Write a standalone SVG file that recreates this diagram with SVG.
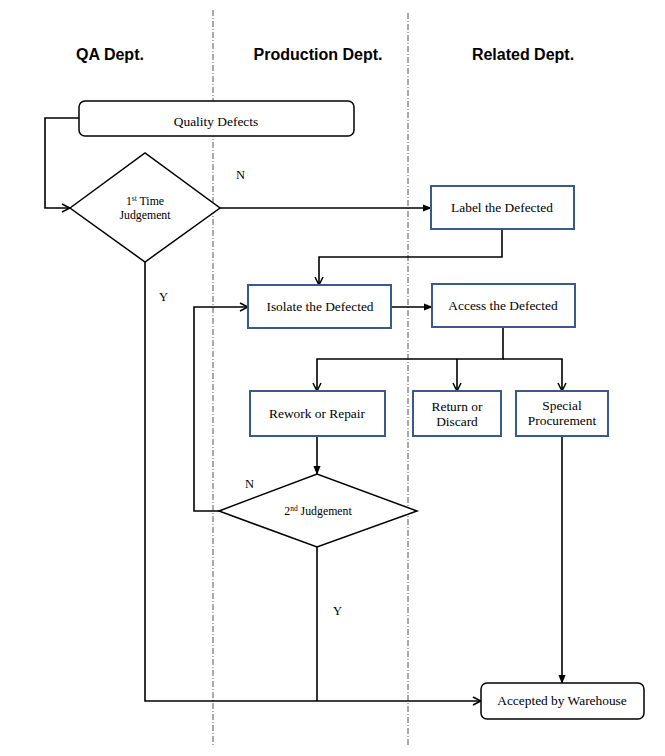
<svg xmlns="http://www.w3.org/2000/svg" width="665" height="756" viewBox="0 0 665 756">
<style>
.hdr{font-family:"Liberation Sans",Arial,sans-serif;font-weight:bold;font-size:16px;text-anchor:middle;fill:#000}
.t{font-family:"Liberation Serif","Times New Roman",serif;font-size:13.4px;text-anchor:middle;fill:#000}
.s{font-family:"Liberation Serif","Times New Roman",serif;font-size:11.8px;text-anchor:middle;fill:#000}
.lbl{font-family:"Liberation Serif","Times New Roman",serif;font-size:12.5px;fill:#000}
.box{fill:#fff;stroke:#3A5A8C;stroke-width:2}
.rbox{fill:#fff;stroke:#000;stroke-width:1.5}
.dia{fill:#fff;stroke:#000;stroke-width:1.5}
.c{fill:none;stroke:#000;stroke-width:1.6}
.div{stroke:#555;stroke-width:1;stroke-dasharray:6,2,1,2}
</style>
<defs>
<marker id="open" viewBox="0 0 10 10" refX="9" refY="5" markerWidth="10" markerHeight="10" markerUnits="userSpaceOnUse" orient="auto">
<path d="M1,1 L9,5 L1,9" fill="none" stroke="#000" stroke-width="1.5"/>
</marker>
<marker id="fill" viewBox="0 0 10 10" refX="9" refY="5" markerWidth="9" markerHeight="9" markerUnits="userSpaceOnUse" orient="auto">
<path d="M0,1 L10,5 L0,9 Z" fill="#000"/>
</marker>
</defs>
<rect width="665" height="756" fill="#fff"/>
<g id="dividers">
<line class="div" x1="213" y1="10" x2="213" y2="745"/>
<line class="div" x1="408" y1="13" x2="408" y2="745"/>
</g>
<g id="headers">
<text class="hdr" x="110" y="60">QA Dept.</text>
<text class="hdr" x="318" y="60">Production Dept.</text>
<text class="hdr" x="523" y="60">Related Dept.</text>
</g>
<g id="connectors">
<polyline class="c" points="79,118 45,118 45,208 70,208" marker-end="url(#open)"/>
<line class="c" x1="220" y1="208" x2="431" y2="208" marker-end="url(#fill)"/>
<polyline class="c" points="502,229 502,257 319,257 319,285" marker-end="url(#open)"/>
<line class="c" x1="391" y1="307" x2="432" y2="307" marker-end="url(#fill)"/>
<polyline class="c" points="503,327 503,359 317,359 317,391" marker-end="url(#open)"/>
<polyline class="c" points="457,359 457,391" marker-end="url(#open)"/>
<polyline class="c" points="503,359 562,359 562,391" marker-end="url(#open)"/>
<line class="c" x1="317" y1="436" x2="317" y2="474" marker-end="url(#fill)"/>
<polyline class="c" points="219,511 194,511 194,307 248,307" marker-end="url(#open)"/>
<polyline class="c" points="145,262 145,701 481,701" marker-end="url(#open)"/>
<line class="c" x1="317" y1="547" x2="317" y2="701"/>
<line class="c" x1="562" y1="436" x2="562" y2="683" marker-end="url(#fill)"/>
<text class="lbl" x="236" y="179">N</text>
<text class="lbl" x="159" y="301">Y</text>
<text class="lbl" x="245" y="488">N</text>
<text class="lbl" x="333" y="615">Y</text>
</g>
<g id="quality-defects">
<rect class="rbox" x="79" y="101" width="275" height="35" rx="6"/>
<text class="t" x="216" y="126">Quality Defects</text>
</g>
<g id="judgement1">
<polygon class="dia" points="70,208 145,153 220,208 145,262"/>
<text class="s" x="145" y="205">1<tspan font-size="7.5" dy="-4">st</tspan><tspan dy="4"> Time</tspan></text>
<text class="s" x="145" y="219">Judgement</text>
</g>
<g id="label-defected">
<rect class="box" x="431" y="186" width="143" height="43"/>
<text class="t" x="502" y="212">Label the Defected</text>
</g>
<g id="isolate-defected">
<rect class="box" x="248" y="285" width="143" height="43"/>
<text class="t" x="320" y="311">Isolate the Defected</text>
</g>
<g id="access-defected">
<rect class="box" x="432" y="284" width="143" height="43"/>
<text class="t" x="503" y="310">Access the Defected</text>
</g>
<g id="rework">
<rect class="box" x="250" y="391" width="135" height="45"/>
<text class="t" x="317" y="418">Rework or Repair</text>
</g>
<g id="return-discard">
<rect class="box" x="413" y="391" width="88" height="45"/>
<text class="t" x="457" y="411">Return or</text>
<text class="t" x="457" y="426">Discard</text>
</g>
<g id="special-procurement">
<rect class="box" x="516" y="391" width="92" height="45"/>
<text class="t" x="562" y="410">Special</text>
<text class="t" x="562" y="425">Procurement</text>
</g>
<g id="judgement2">
<polygon class="dia" points="219,511 317,474 417,511 317,547"/>
<text class="s" x="318" y="515">2<tspan font-size="7.5" dy="-4">nd</tspan><tspan dy="4"> Judgement</tspan></text>
</g>
<g id="accepted">
<rect class="rbox" x="481" y="683" width="163" height="36" rx="6"/>
<text class="t" x="562" y="705" font-size="14">Accepted by Warehouse</text>
</g>
</svg>
